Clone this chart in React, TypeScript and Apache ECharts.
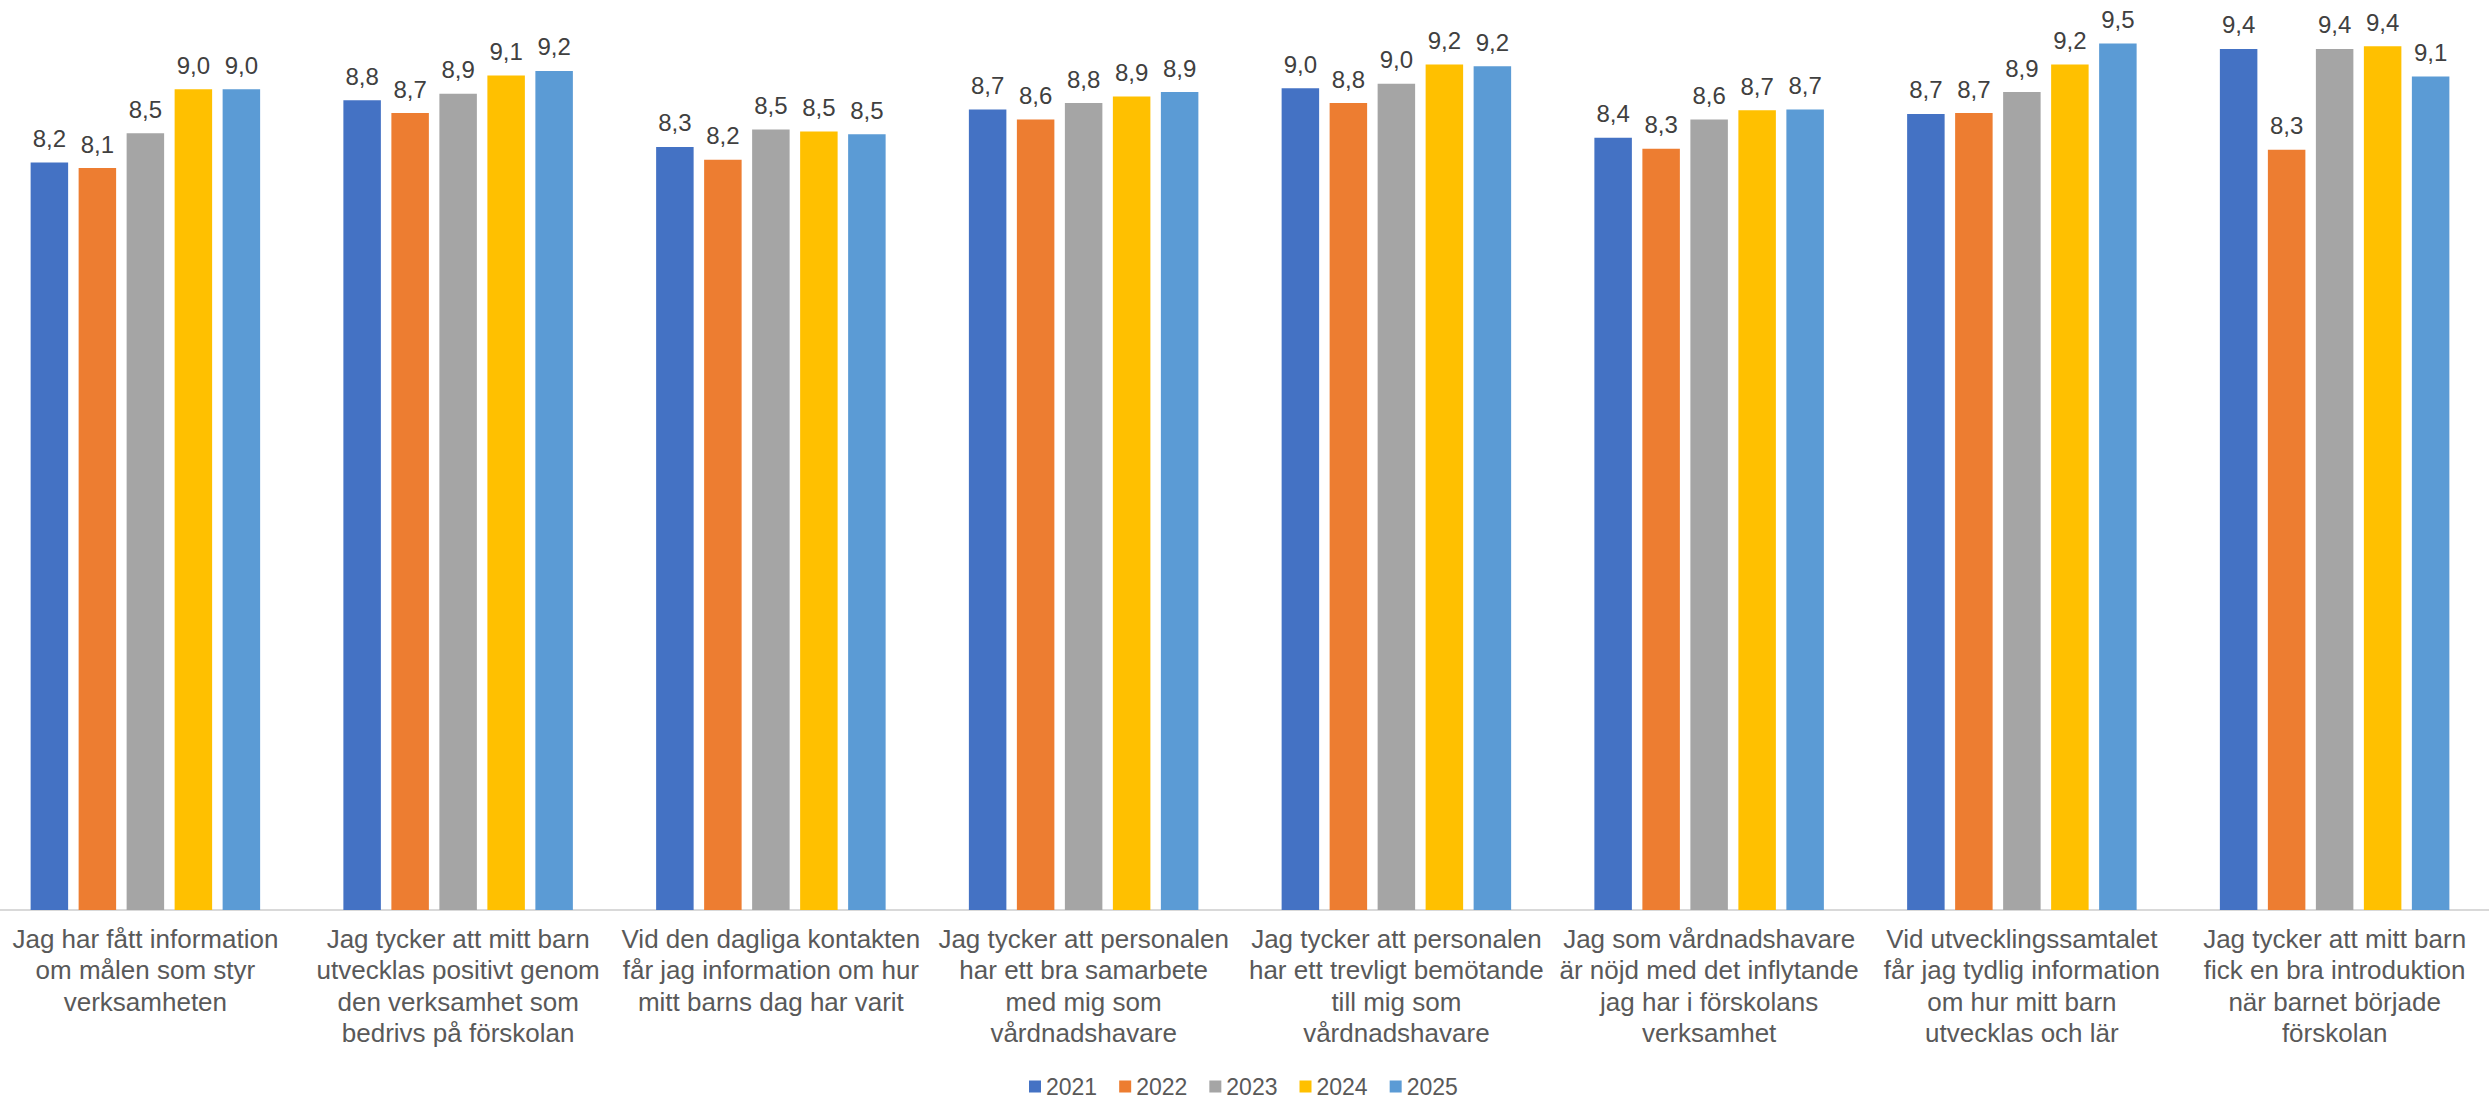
import React, { useEffect, useRef } from "react";
import * as echarts from "echarts";

const categories: string[] = [
  "Jag har fått information\nom målen som styr\nverksamheten",
  "Jag tycker att mitt barn\nutvecklas positivt genom\nden verksamhet som\nbedrivs på förskolan",
  "Vid den dagliga kontakten\nfår jag information om hur\nmitt barns dag har varit",
  "Jag tycker att personalen\nhar ett bra samarbete\nmed mig som\nvårdnadshavare",
  "Jag tycker att personalen\nhar ett trevligt bemötande\ntill mig som\nvårdnadshavare",
  "Jag som vårdnadshavare\när nöjd med det inflytande\njag har i förskolans\nverksamhet",
  "Vid utvecklingssamtalet\nfår jag tydlig information\nom hur mitt barn\nutvecklas och lär",
  "Jag tycker att mitt barn\nfick en bra introduktion\nnär barnet började\nförskolan",
];

const years: string[] = ["2021", "2022", "2023", "2024", "2025"];

const values2021: number[] = [8.16, 8.84, 8.33, 8.74, 8.97, 8.43, 8.69, 9.4];
const values2022: number[] = [8.1, 8.7, 8.19, 8.63, 8.81, 8.31, 8.7, 8.3];
const values2023: number[] = [8.48, 8.91, 8.52, 8.81, 9.02, 8.63, 8.93, 9.4];
const values2024: number[] = [8.96, 9.11, 8.5, 8.88, 9.23, 8.73, 9.23, 9.43];
const values2025: number[] = [8.96, 9.16, 8.47, 8.93, 9.21, 8.74, 9.46, 9.1];

const seriesValues: number[][] = [values2021, values2022, values2023, values2024, values2025];
const colors: string[] = ["#4472C4", "#ED7D31", "#A5A5A5", "#FFC000", "#5B9BD5"];

const FONT = "'Liberation Sans', Arial, sans-serif";

export default function App() {
  const ref = useRef<HTMLDivElement>(null);
  useEffect(() => {
    if (!ref.current) return;
    const chart = echarts.init(ref.current, undefined, { renderer: "svg" });
    chart.setOption({
      animation: false,
      backgroundColor: "#ffffff",
      textStyle: { fontFamily: FONT },
      grid: { left: 0, right: 0, top: 0, bottom: 188, containLabel: false },
      legend: {
        data: years,
        top: 1081,
        left: 1040,
        padding: 0,
        icon: "rect",
        itemWidth: 12,
        itemHeight: 12,
        itemGap: 22,
        textStyle: { fontSize: 23, color: "#595959", fontFamily: FONT },
      },
      xAxis: {
        type: "category",
        data: categories,
        axisLine: { show: true, lineStyle: { color: "#D9D9D9", width: 2 } },
        axisTick: { show: false },
        axisLabel: {
          interval: 0,
          margin: 13,
          fontSize: 26,
          lineHeight: 31.5,
          color: "#595959",
          fontFamily: FONT,
          align: "center",
        },
      },
      yAxis: {
        type: "value",
        min: 0,
        max: 10,
        show: false,
        splitLine: { show: false },
      },
      series: years.map((y, i) => ({
        name: y,
        type: "bar",
        data: seriesValues[i],
        barWidth: 37.5,
        barGap: "28%",
        itemStyle: { color: colors[i] },
        label: {
          show: true,
          position: "top",
          distance: 12,
          fontSize: 24,
          color: "#404040",
          fontFamily: FONT,
          formatter: (p: any) => Number(p.value).toFixed(1).replace(".", ","),
        },
      })),
    });
    return () => chart.dispose();
  }, []);
  return (
    <div
      ref={ref}
      style={{ position: "absolute", left: -11, top: -6, width: 2502, height: 1104 }}
    />
  );
}
